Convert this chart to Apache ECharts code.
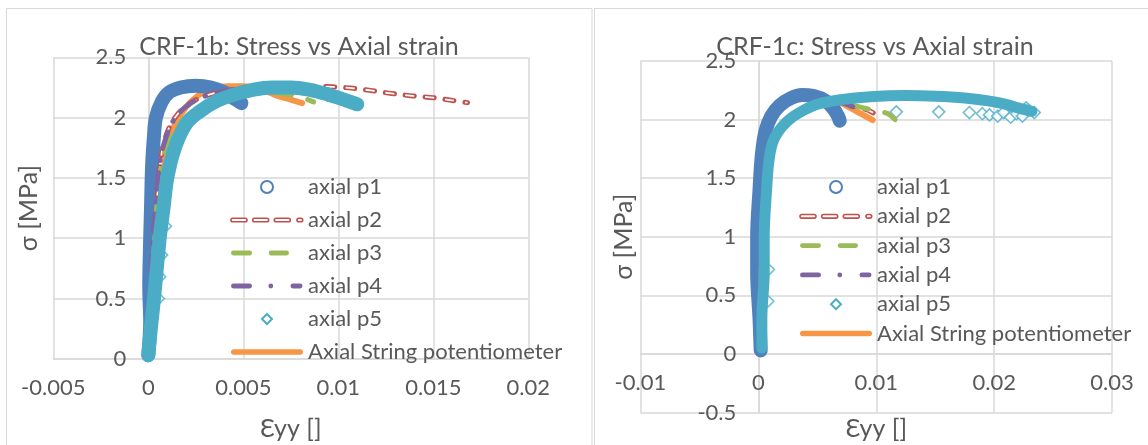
<!DOCTYPE html>
<html><head><meta charset="utf-8">
<script src="https://cdn.jsdelivr.net/npm/echarts@6/dist/echarts.min.js"></script>
<style>html,body{margin:0;padding:0;background:#fff}#c{width:1148px;height:445px}</style>
</head><body><div id="c"></div>
<script>
// ---------- labels / ticks ----------
const seriesNames = ['axial p1', 'axial p2', 'axial p3', 'axial p4', 'axial p5', 'Axial String potentiometer'];
const titles = ['CRF-1b: Stress vs Axial strain', 'CRF-1c: Stress vs Axial strain'];
const xName = 'Ɛyy []';
const yName = 'σ [MPa]';
const xTicksB = [-0.005, 0, 0.005, 0.01, 0.015, 0.02];
const yTicksB = [0, 0.5, 1, 1.5, 2, 2.5];
const xTicksC = [-0.01, 0, 0.01, 0.02, 0.03];
const yTicksC = [-0.5, 0, 0.5, 1, 1.5, 2, 2.5];

// ---------- CRF-1b data [strain, stress] ----------
const b_p1 = [[0,0.03],[0.0001,0.3],[0.00005,0.6],[0.0001,1.0],[0.00015,1.3],[0.0002,1.6],[0.0003,1.85],[0.0004,2.0],[0.0007,2.13],[0.0011,2.21],[0.0017,2.25],[0.0025,2.265],[0.0033,2.25],[0.004,2.21],[0.0045,2.16],[0.0049,2.12]];
const b_p2 = [[0,0.03],[0.0001,0.4],[0.0003,0.9],[0.0005,1.4],[0.0007,1.7],[0.001,1.88],[0.0015,2.02],[0.0022,2.12],[0.003,2.18],[0.004,2.22],[0.0055,2.25],[0.007,2.26],[0.0085,2.26],[0.0097,2.255],[0.0108,2.243],[0.0118,2.223],[0.0128,2.2],[0.0139,2.18],[0.015,2.165],[0.0161,2.14],[0.0168,2.124]];
const b_p3 = [[0,0.03],[0.0001,0.4],[0.0003,0.9],[0.0005,1.35],[0.0008,1.68],[0.0012,1.85],[0.0018,1.98],[0.0025,2.07],[0.0032,2.13],[0.004,2.17],[0.005,2.2],[0.006,2.21],[0.007,2.2],[0.008,2.17],[0.0087,2.13]];
const b_p4 = [[0,0.03],[0.0001,0.4],[0.0002,0.9],[0.0004,1.3],[0.0006,1.62],[0.0009,1.82],[0.0013,1.97],[0.0019,2.08],[0.0027,2.16],[0.0037,2.21],[0.005,2.24],[0.0065,2.245],[0.008,2.22],[0.009,2.18],[0.0098,2.13]];
const b_p5 = [[0,0.03],[0.0001,0.2],[0.0003,0.5],[0.0006,1.0],[0.0008,1.25],[0.001,1.5],[0.0014,1.75],[0.002,1.95],[0.0027,2.05],[0.0035,2.13],[0.0045,2.19],[0.0055,2.23],[0.0065,2.25],[0.0075,2.25],[0.0085,2.23],[0.0095,2.19],[0.0103,2.15],[0.011,2.11]];
const b_p5pts = [[0.00053,0.5],[0.0006,0.68],[0.0007,0.86],[0.0009,1.1]];
const b_pot = [[0,0.03],[0.0001,0.3],[0.0003,0.8],[0.0005,1.2],[0.0008,1.55],[0.0011,1.82],[0.0015,1.97],[0.002,2.09],[0.0026,2.18],[0.0033,2.24],[0.0042,2.26],[0.005,2.26],[0.006,2.23],[0.0068,2.18],[0.0075,2.15],[0.0081,2.12]];

// ---------- CRF-1c data [strain, stress] ----------
const c_p1 = [[0.0002,0.03],[0.0001,0.3],[-0.0001,0.7],[-0.0001,1.0],[0.0001,1.4],[0.0003,1.7],[0.0006,1.9],[0.0011,2.03],[0.0018,2.12],[0.0027,2.18],[0.0037,2.21],[0.0047,2.2],[0.0057,2.16],[0.0064,2.09],[0.0068,2.02],[0.0069,1.99]];
const c_p2 = [[0.0003,0.03],[0.0002,0.4],[0.0003,0.9],[0.0005,1.3],[0.0007,1.6],[0.0011,1.8],[0.0018,1.94],[0.0027,2.03],[0.0038,2.09],[0.005,2.13],[0.0062,2.15],[0.0072,2.14],[0.0082,2.11],[0.009,2.09],[0.0097,2.06],[0.0104,2.0]];
const c_p3 = [[0.0003,0.03],[0.0002,0.4],[0.0003,0.9],[0.0005,1.3],[0.0007,1.6],[0.0011,1.8],[0.0018,1.94],[0.0027,2.03],[0.0038,2.09],[0.005,2.13],[0.0062,2.15],[0.0074,2.14],[0.0085,2.11],[0.0093,2.09],[0.0102,2.07],[0.011,2.05],[0.0116,2.0]];
const c_p4 = [[0.0003,0.03],[0.0002,0.4],[0.0003,0.9],[0.0005,1.3],[0.0007,1.6],[0.0011,1.8],[0.0018,1.94],[0.0027,2.03],[0.0038,2.09],[0.005,2.13],[0.0062,2.15],[0.0072,2.14],[0.008,2.11],[0.0087,2.08]];
const c_p5 = [[0.0003,0.05],[0.0003,0.3],[0.0005,0.7],[0.0005,1.0],[0.0007,1.4],[0.0009,1.65],[0.0012,1.8],[0.0017,1.9],[0.0025,1.99],[0.0035,2.06],[0.005,2.13],[0.007,2.17],[0.0095,2.195],[0.0125,2.205],[0.015,2.2],[0.0175,2.185],[0.0195,2.16],[0.021,2.13],[0.022,2.1],[0.0232,2.07]];
const c_p5pts = [[0.0117,2.066],[0.0153,2.066],[0.0179,2.06],[0.019,2.05],[0.0196,2.04],[0.0203,2.03],[0.0208,2.06],[0.0214,2.02],[0.0219,2.05],[0.0224,2.03],[0.0229,2.08],[0.0234,2.06],[0.0227,2.1],[0.00085,0.72],[0.0008,0.45]];
const c_pot = [[0.0003,0.03],[0.0002,0.4],[0.0004,0.9],[0.0006,1.3],[0.0008,1.6],[0.0012,1.8],[0.0019,1.94],[0.0028,2.03],[0.0038,2.09],[0.005,2.13],[0.0062,2.15],[0.007,2.14],[0.0078,2.1],[0.0087,2.05],[0.0097,1.995]];

// ---------- styles ----------
const FONT = "Lato, 'DejaVu Sans', sans-serif";
const TXT = '#595959';
const GRIDC = '#d9d9d9';
const COL = {p1:'#4f81bd', p2:'#c0504d', p3:'#9bbb59', p4:'#8064a2', p5:'#4bacc6', pot:'#f79646'};

// plot-area geometry (pixels)
const G = [
  {left: 53.3, top: 57.3, width: 475, height: 301.5},
  {left: 640.4, top: 61, width: 471.7, height: 351.5}
];
// distance of the zero line from the grid edge, derived from the axis ranges
function zeroOffsetX(gi, ticks) { return G[gi].width * (0 - ticks[0]) / (ticks[ticks.length-1] - ticks[0]); }
function zeroOffsetY(gi, ticks) { return G[gi].height * (0 - ticks[0]) / (ticks[ticks.length-1] - ticks[0]); }

function cap(x0, x1, r) {
  return `M${x0+r} ${6-r} L${x1-r} ${6-r} A${r} ${r} 0 0 1 ${x1-r} ${6+r} L${x0+r} ${6+r} A${r} ${r} 0 0 1 ${x0+r} ${6-r} Z `;
}
const BOX = 'M0 0 M72 12 ';
const legendData = [
  {name: seriesNames[0], icon: 'circle', itemStyle: {color: '#fff', borderColor: COL.p1, borderWidth: 2}},
  {name: seriesNames[1], icon: 'path://' + BOX + cap(0,16,1.8) + cap(21.7,37.7,1.8) + cap(43.3,59.3,1.8) + cap(66,71.7,1.8),
    itemStyle: {color: '#fff', borderColor: COL.p2, borderWidth: 1.6}},
  {name: seriesNames[2], icon: 'path://' + BOX + cap(0,21,2.4) + cap(37.7,58,2.4), itemStyle: {color: COL.p3, borderWidth: 0}},
  {name: seriesNames[3], icon: 'path://' + BOX + cap(0,21,2.4) + cap(37.4,42.2,2.4) + cap(59.5,71.5,2.4), itemStyle: {color: COL.p4, borderWidth: 0}},
  {name: seriesNames[4], icon: 'path://' + BOX + 'M36 1 L41 6 L36 11 L31 6 Z', itemStyle: {color: '#fff', borderColor: COL.p5, borderWidth: 2}},
  {name: seriesNames[5], icon: 'path://' + BOX + cap(0,72,2.8), itemStyle: {color: COL.pot, borderWidth: 0}}
];

function line(name, data, gi, color, width, dash, capStyle) {
  return {
    type: 'line', name, data, xAxisIndex: gi, yAxisIndex: gi,
    showSymbol: false, symbol: 'none', smooth: 0.35, animation: false, silent: true,
    lineStyle: {color, width, type: dash || 'solid', cap: capStyle || 'round', join: 'round'}
  };
}
function chartSeries(gi, d, p5w) {
  return [
    line(seriesNames[5], d.pot, gi, COL.pot, 6),
    line(seriesNames[0], d.p1, gi, COL.p1, 14),
    line(seriesNames[1], d.p2, gi, COL.p2, 5, [9, 11]),
    line(seriesNames[1], d.p2, gi, '#ffffff', 1.8, [9, 11], 'butt'),
    line(seriesNames[2], d.p3, gi, COL.p3, 5, [17, 17]),
    line(seriesNames[3], d.p4, gi, COL.p4, 5, [17, 12, 0.5, 12]),
    line(seriesNames[4], d.p5, gi, COL.p5, p5w),
    {type: 'scatter', name: seriesNames[4], data: d.p5pts, xAxisIndex: gi, yAxisIndex: gi,
      symbol: 'diamond', symbolSize: 12, silent: true, animation: false,
      itemStyle: {color: '#fff', borderColor: COL.p5, borderWidth: 1.6}}
  ];
}

const fmt = v => String(parseFloat(Number(v).toFixed(4)));
function xAxis(gi, ticks, yTicks, nameGap) {
  return {
    type: 'value', gridIndex: gi, position: 'bottom', offset: -zeroOffsetY(gi, yTicks),
    min: ticks[0], max: ticks[ticks.length - 1], interval: ticks[1] - ticks[0],
    axisLine: {show: true, onZero: false, lineStyle: {color: GRIDC, width: 1.5}},
    axisTick: {show: false},
    splitLine: {show: true, lineStyle: {color: GRIDC, width: 1.5}},
    axisLabel: {fontFamily: FONT, fontSize: 22, color: TXT, margin: 18, formatter: fmt},
    name: xName, nameLocation: 'middle', nameGap, nameMoveOverlap: false,
    nameTextStyle: {fontFamily: FONT, fontSize: 25, color: TXT}
  };
}
function yAxis(gi, ticks, xTicks, nameGap) {
  return {
    type: 'value', gridIndex: gi, position: 'left', offset: -zeroOffsetX(gi, xTicks),
    min: ticks[0], max: ticks[ticks.length - 1], interval: ticks[1] - ticks[0],
    axisLine: {show: true, onZero: false, lineStyle: {color: GRIDC, width: 1.5}},
    axisTick: {show: false},
    splitLine: {show: true, lineStyle: {color: GRIDC, width: 1.5}},
    axisLabel: {fontFamily: FONT, fontSize: 22, color: TXT, margin: 22, formatter: fmt},
    name: yName, nameLocation: 'middle', nameGap, nameMoveOverlap: false,
    nameTextStyle: {fontFamily: FONT, fontSize: 25, color: TXT}
  };
}
function legend(left, gap) {
  return {
    orient: 'vertical', left, top: 175, padding: 0, itemWidth: 72, itemHeight: 12, itemGap: gap,
    selectedMode: false,
    textStyle: {fontFamily: FONT, fontSize: 22, color: TXT, lineHeight: 24},
    data: legendData
  };
}

const chart = echarts.init(document.getElementById('c'), null, {renderer: 'canvas', width: 1148, height: 445});
chart.setOption({
  backgroundColor: '#ffffff',
  animation: false,
  graphic: [
    {type: 'rect', shape: {x: 6.5, y: 8.5, width: 585.5, height: 460}, style: {fill: 'none', stroke: GRIDC, lineWidth: 1}, silent: true},
    {type: 'rect', shape: {x: 594.5, y: 8.5, width: 600, height: 460}, style: {fill: 'none', stroke: GRIDC, lineWidth: 1}, silent: true}
  ],
  title: [
    {text: titles[0], left: 299, top: 34, textAlign: 'center', padding: 0,
      textStyle: {fontFamily: FONT, fontSize: 25, fontWeight: 'normal', color: TXT}},
    {text: titles[1], left: 875, top: 34, textAlign: 'center', padding: 0,
      textStyle: {fontFamily: FONT, fontSize: 25, fontWeight: 'normal', color: TXT}}
  ],
  legend: [legend(230, 9), legend(799, 5.3)],
  grid: G.map(g => Object.assign({outerBoundsMode: 'none'}, g)),
  xAxis: [xAxis(0, xTicksB, yTicksB, 58), xAxis(1, xTicksC, yTicksC, 63)],
  yAxis: [yAxis(0, yTicksB, xTicksB, 107), yAxis(1, yTicksC, xTicksC, 122)],
  series: [
    ...chartSeries(0, {p1: b_p1, p2: b_p2, p3: b_p3, p4: b_p4, p5: b_p5, p5pts: b_p5pts, pot: b_pot}, 14),
    ...chartSeries(1, {p1: c_p1, p2: c_p2, p3: c_p3, p4: c_p4, p5: c_p5, p5pts: c_p5pts, pot: c_pot}, 11)
  ]
});
</script></body></html>
